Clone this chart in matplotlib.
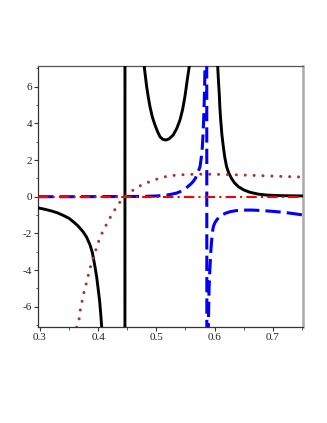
import matplotlib
matplotlib.use("Agg")
import matplotlib.pyplot as plt
from matplotlib.ticker import MultipleLocator, FixedLocator

# ---- data ----
# black solid curve (three branches joined, like the original plot)
black_x = [0.297, 0.300, 0.310, 0.320, 0.330, 0.340, 0.350, 0.357, 0.365, 0.374,
           0.380, 0.386, 0.390, 0.3945, 0.3975, 0.4002, 0.4025, 0.4043, 0.406,
           0.409, 0.415, 0.425, 0.4455,
           0.4465, 0.465, 0.479, 0.481, 0.4833, 0.486, 0.489, 0.493, 0.4976, 0.502,
           0.5062, 0.511, 0.5165, 0.522, 0.529, 0.535, 0.5405, 0.545, 0.549, 0.551,
           0.553, 0.5566, 0.566, 0.585, 0.598,
           0.6053, 0.6065, 0.608, 0.609, 0.6105, 0.6125, 0.615, 0.6175, 0.6206,
           0.6245, 0.629, 0.634, 0.6408, 0.650, 0.6608, 0.675, 0.6895, 0.710,
           0.730, 0.7525]
black_y = [-0.61, -0.63, -0.70, -0.78, -0.88, -1.02, -1.18, -1.36, -1.58, -1.91,
           -2.20, -2.63, -3.05, -3.82, -4.40, -5.09, -5.70, -6.36, -7.09,
           -8.5, -12.0, -22.0, -120.0,
           120.0, 12.0, 7.13, 6.6, 6.0, 5.45, 4.91, 4.35, 3.91, 3.55,
           3.27, 3.13, 3.09, 3.16, 3.37, 3.72, 4.18, 4.75, 5.46, 5.9,
           6.37, 7.13, 12.0, 40.0, 12.0,
           7.13, 6.4, 5.64, 4.9, 4.18, 3.4, 2.73, 2.15, 1.64,
           1.28, 1.0, 0.76, 0.55, 0.37, 0.24, 0.14, 0.09, 0.06,
           0.05, 0.04]

# blue dashed curve
blue_x = [0.297, 0.350, 0.400, 0.450, 0.480, 0.500, 0.510, 0.520, 0.528, 0.535,
          0.541, 0.546, 0.552, 0.5577, 0.563, 0.567, 0.571, 0.575, 0.577, 0.579,
          0.5805, 0.5818, 0.5828, 0.5835, 0.5850, 0.5860,
          0.5872, 0.5885, 0.5893, 0.5905, 0.592, 0.5935, 0.595, 0.5965, 0.5978,
          0.6005, 0.6036, 0.6075, 0.6122, 0.619, 0.6265, 0.637, 0.6494, 0.665,
          0.6837, 0.700, 0.718, 0.735, 0.7525]
blue_y = [0.0, 0.0, 0.005, 0.01, 0.02, 0.04, 0.06, 0.10, 0.15, 0.20,
          0.28, 0.38, 0.50, 0.65, 0.82, 1.0, 1.3, 1.64, 2.1, 2.73,
          3.6, 4.73, 5.9, 7.13, 15.0, 60.0,
          -60.0, -12.0, -7.1, -5.0, -3.9, -3.0, -2.36, -1.9, -1.64,
          -1.42, -1.27, -1.12, -1.0, -0.9, -0.82, -0.76, -0.73, -0.73,
          -0.76, -0.80, -0.85, -0.92, -1.0]

# red dash-dot line
red_x = [0.297, 0.7525]
red_y = [0.0, 0.0]

# brown dotted curve
brown_x = [0.360, 0.363, 0.367, 0.3687, 0.3716, 0.3744, 0.3779, 0.3813, 0.3847, 0.3887,
           0.3928, 0.3974, 0.4019, 0.4077, 0.4146, 0.4214, 0.4289, 0.4363, 0.446,
           0.4564, 0.466, 0.4816, 0.4959, 0.509, 0.5205, 0.535, 0.5577, 0.580,
           0.6036, 0.630, 0.661, 0.7124, 0.7525]
brown_y = [-7.6, -7.1, -6.73, -6.27, -5.82, -5.36, -4.94, -4.51, -4.04, -3.6,
           -3.2, -2.76, -2.33, -1.91, -1.49, -1.09, -0.69, -0.33, 0.0,
           0.27, 0.51, 0.73, 0.91, 1.04, 1.13, 1.18, 1.22, 1.23,
           1.22, 1.20, 1.17, 1.11, 1.07]

xticks = [0.3, 0.4, 0.5, 0.6, 0.7]
xtick_labels = ["0.3", "0.4", "0.5", "0.6", "0.7"]
yticks = [-6, -4, -2, 0, 2, 4, 6]
ytick_labels = ["-6", "-4", "-2", "0", "2", "4", "6"]

# ---- figure ----
fig = plt.figure(figsize=(3.27, 4.23), dpi=100)
ax = fig.add_axes([0.1171, 0.2277, 0.8104, 0.6163])

ax.plot(black_x, black_y, color="black", lw=2.1, solid_joinstyle="round", zorder=3)
ax.plot(blue_x, blue_y, color="#0000ff", lw=2.2, linestyle=(0, (5, 2)), zorder=4)
ax.plot(red_x, red_y, color="#ff0000", lw=1.5, linestyle=(0, (5, 2, 1, 2)), zorder=5)
ax.plot(brown_x, brown_y, color="#b03030", lw=2.2, linestyle=(0, (0.01, 2.9)),
        dash_capstyle="round", zorder=6)

ax.set_xlim(0.2971, 0.7524)
ax.set_ylim(-7.09, 7.13)

ax.xaxis.set_major_locator(FixedLocator(xticks))
ax.set_xticklabels(xtick_labels)
ax.yaxis.set_major_locator(FixedLocator(yticks))
ax.set_yticklabels(ytick_labels)
ax.xaxis.set_minor_locator(MultipleLocator(0.05))
ax.yaxis.set_minor_locator(MultipleLocator(1))

for lab in ax.get_xticklabels() + ax.get_yticklabels():
    lab.set_fontfamily("Liberation Serif")
    lab.set_fontsize(8)
    lab.set_color("#222222")

ax.tick_params(axis="both", which="major", direction="out", length=3, width=0.8,
               color="#333333", pad=1.5)
ax.tick_params(axis="both", which="minor", direction="out", length=1.8, width=0.7,
               color="#555555")
ax.tick_params(axis="x", which="both", top=False)
ax.tick_params(axis="y", which="both", right=False)

ax.spines["left"].set_color("#333333")
ax.spines["left"].set_linewidth(0.9)
ax.spines["bottom"].set_color("#333333")
ax.spines["bottom"].set_linewidth(0.9)
ax.spines["top"].set_color("#555555")
ax.spines["top"].set_linewidth(0.9)
ax.spines["right"].set_color("#aaaaaa")
ax.spines["right"].set_linewidth(1.8)

fig.savefig("out.png", dpi=100)
